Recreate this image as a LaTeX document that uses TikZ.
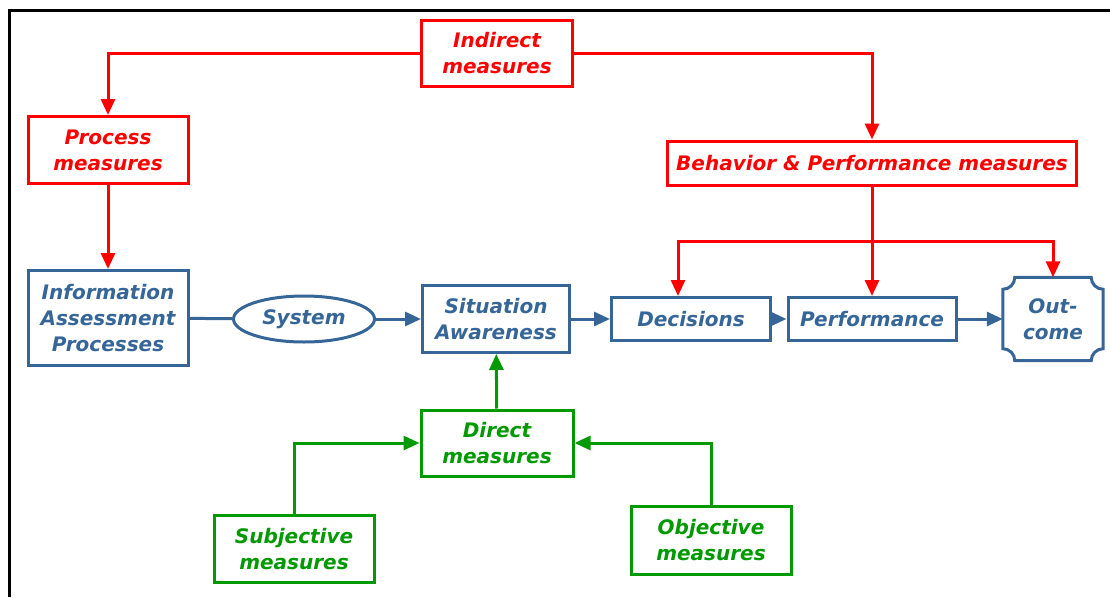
\documentclass[tikz,border=0pt]{standalone}
\usepackage{fontspec}
\setmainfont{DejaVu Sans}
\usepackage{tikz}
\usetikzlibrary{shapes.geometric,arrows.meta,positioning,calc}
\usepackage{xcolor}
\definecolor{measred}{RGB}{255,0,0}
\definecolor{measgreen}{RGB}{0,153,0}
\definecolor{procblue}{RGB}{54,102,152}
\tikzset{
    lbl/.style={font=\bfseries\itshape\fontsize{20}{26}\selectfont, align=center, inner sep=0pt},
    measR/.style={lbl, rectangle, draw=measred, text=measred, line width=3pt},
    measG/.style={lbl, rectangle, draw=measgreen, text=measgreen, line width=3pt},
    procB/.style={lbl, rectangle, draw=procblue, text=procblue, line width=3pt},
    sysB/.style={lbl, ellipse, draw=procblue, text=procblue, line width=3pt},
    outB/.style={lbl, rectangle, text=procblue},
    tip/.style={-{Triangle[length=16pt,width=14pt]}},
    redline/.style={line width=3pt, measred},
    blueline/.style={line width=3pt, procblue},
    greenline/.style={line width=3pt, measgreen},
}

\begin{document}
\begin{tikzpicture}[x=1pt, y=-1pt]
    \useasboundingbox (0,0) rectangle (1110,597);
    % frame
    \draw[line width=3pt, black] (9,597) -- (9,10) -- (1110,10);
    % red: indirect measures
    \node[measR, minimum width=151pt, minimum height=66pt] (ind) at (497,53) {Indirect\\measures};
    \node[measR, minimum width=160pt, minimum height=67pt] (proc) at (108,150) {Process\\measures};
    \node[measR, minimum width=409pt, minimum height=44pt] (beh) at (872,163) {Behavior \& Performance measures};
    % blue: main chain
    \node[procB, minimum width=160pt, minimum height=95pt] (info) at (108,318) {Information\\Assessment\\Processes};
    \node[sysB, minimum width=141pt, minimum height=46pt] (sys) at (304,319) {System};
    \node[procB, minimum width=147pt, minimum height=67pt] (sa) at (496,319) {Situation\\Awareness};
    \node[procB, minimum width=159pt, minimum height=43pt] (dec) at (691,319) {Decisions};
    \node[procB, minimum width=168pt, minimum height=43pt] (perf) at (872,319) {Performance};
    \node[outB, minimum width=100pt, minimum height=83pt] (out) at (1053,319) {Out-\\come};
    \draw[blueline]
        ($(out.north west)+(12,0)$) -- ($(out.north east)+(-12,0)$)
        .. controls ($(out.north east)+(-12,6.6)$) and ($(out.north east)+(-6.6,12)$) .. ($(out.north east)+(0,12)$)
        -- ($(out.south east)+(0,-12)$)
        .. controls ($(out.south east)+(-6.6,-12)$) and ($(out.south east)+(-12,-6.6)$) .. ($(out.south east)+(-12,0)$)
        -- ($(out.south west)+(12,0)$)
        .. controls ($(out.south west)+(12,-6.6)$) and ($(out.south west)+(6.6,-12)$) .. ($(out.south west)+(0,-12)$)
        -- ($(out.north west)+(0,12)$)
        .. controls ($(out.north west)+(6.6,12)$) and ($(out.north west)+(12,6.6)$) .. cycle;
    % green: direct measures
    \node[measG, minimum width=152pt, minimum height=66pt] (dir) at (497,443) {Direct\\measures};
    \node[measG, minimum width=160pt, minimum height=67pt] (subj) at (294,549) {Subjective\\measures};
    \node[measG, minimum width=160pt, minimum height=68pt] (obj) at (711,540) {Objective\\measures};
    % red connectors
    \draw[redline, tip] (ind.west) -| (proc.north);
    \draw[redline, tip] (ind.east) -| (beh.north);
    \draw[redline, tip] (proc.south) -- (info.north);
    \draw[redline, tip] (beh.south) -- (perf.north);
    \coordinate (split) at (872,241);
    \draw[redline, tip] (split) -| ([xshift=-13pt]dec.north);
    \draw[redline, tip] (split) -| (out.north);
    % blue connectors
    \draw[blueline] (info) -- (sys);
    \draw[blueline, tip] (sys) -- (sa);
    \draw[blueline, tip] (sa) -- (dec);
    \draw[blueline, tip] (dec) -- (perf);
    \draw[blueline, tip] (perf) -- (out);
    % green connectors
    \draw[greenline, tip] (dir) -- (sa);
    \draw[greenline, tip] (subj.north) |- (dir.west);
    \draw[greenline, tip] (obj.north) |- (dir.east);
\end{tikzpicture}
\end{document}
